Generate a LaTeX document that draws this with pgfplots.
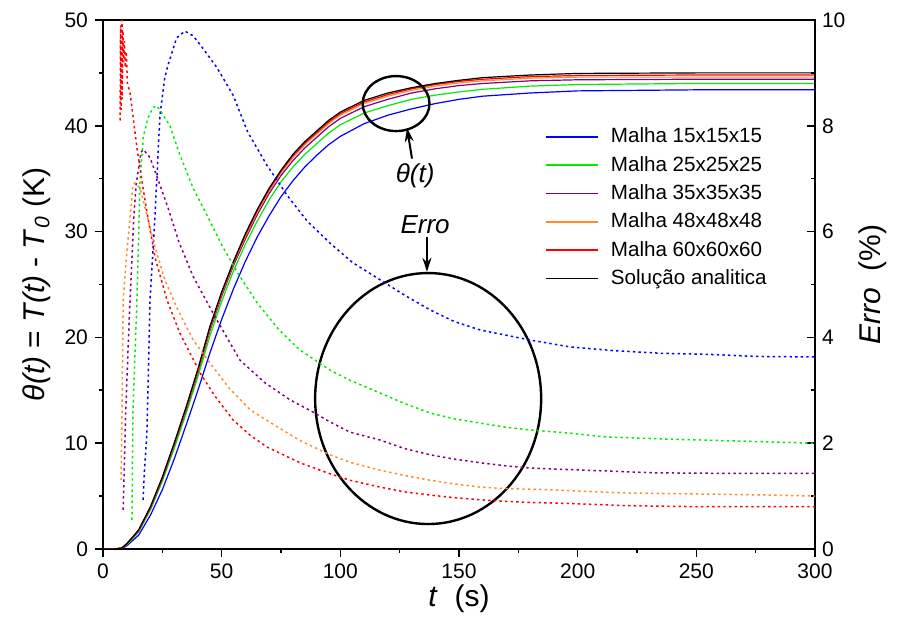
\documentclass[border=0pt]{standalone}
\usepackage{fontspec}
\setmainfont{Liberation Sans}
\usepackage{pgfplots}
\usepackage{pgfplotstable}
\pgfplotsset{compat=1.18}
\usetikzlibrary{calc,arrows.meta}

\definecolor{cblue}{RGB}{0,0,255}
\definecolor{cgreen}{RGB}{0,235,0}
\definecolor{cpurple}{RGB}{128,0,128}
\definecolor{corange}{RGB}{255,140,40}
\definecolor{cred}{RGB}{255,0,0}

\pgfplotstableread{
t B Bl G P O R
0 0 0 0 0 0 0
5 0 0 0 0 0 0
8 0.1 0.05 0.08 0.09 0.1 0.1
10 0.5 0.3 0.4 0.45 0.48 0.5
12 1.0 0.7 0.85 0.95 0.98 1.0
15 1.8 1.3 1.6 1.7 1.75 1.78
20 4.0 3.2 3.7 3.85 3.9 3.95
25 6.8 5.6 6.4 6.6 6.7 6.75
30 10.0 8.5 9.5 9.8 9.9 9.95
35 13.4 11.7 12.8 13.1 13.25 13.35
40 17.0 15.0 16.3 16.7 16.85 16.95
45 21.0 18.5 20.1 20.6 20.8 20.9
50 24.3 21.7 23.4 23.9 24.1 24.2
55 27.2 24.6 26.3 26.8 27.0 27.1
60 29.8 27.2 28.8 29.3 29.55 29.7
65 32.1 29.5 31.0 31.6 31.85 32.0
70 34.1 31.5 33.0 33.6 33.85 34.0
75 35.8 33.3 34.7 35.3 35.55 35.7
80 37.3 34.8 36.1 36.7 37.0 37.15
85 38.5 36.1 37.3 37.9 38.2 38.35
90 39.5 37.2 38.3 38.9 39.2 39.35
95 40.5 38.2 39.3 39.9 40.2 40.35
100 41.3 39.0 40.1 40.7 41.0 41.15
110 42.4 40.2 41.2 41.8 42.1 42.25
120 43.1 41.0 41.9 42.5 42.8 42.95
130 43.6 41.6 42.5 43.1 43.35 43.5
140 44.0 42.1 42.9 43.5 43.75 43.9
150 44.3 42.5 43.2 43.8 44.05 44.2
160 44.55 42.8 43.45 44.0 44.25 44.4
180 44.8 43.1 43.75 44.25 44.5 44.65
200 44.95 43.3 43.9 44.35 44.6 44.75
250 45.0 43.4 44.0 44.4 44.6 44.8
300 45.0 43.4 44.0 44.4 44.6 44.8
}\thetatab

\begin{document}
\begin{tikzpicture}
\pgfplotsset{
  every axis/.append style={
    scale only axis, width=356pt, height=264.5pt,
    xmin=0, xmax=300,
    /pgf/number format/assume math mode=true,
    tick label style={font=\fontsize{10.5}{12}\selectfont},
    label style={font=\fontsize{15}{18}\selectfont},
    major tick length=4pt, minor tick length=2pt,
    tick style={black, line width=0.8pt},
    axis line style={line width=1pt},
  },
  err/.style={line width=0.75pt, dash pattern=on 1.2pt off 1.6pt},
  th/.style={line width=0.6pt},
}
\begin{axis}[
  ymin=0, ymax=50,
  xtick={0,50,...,300}, minor x tick num=1,
  ytick={0,10,...,50}, minor y tick num=1,
  xtick pos=left, ytick pos=left,
  tick align=outside,
  xlabel={\textit{t}\ \ (s)},
  xlabel style={yshift=4pt},
  ylabel={\textit{θ(t)} = \textit{T(t)} - \textit{T}\textsubscript{\textit{0}} (K)},
  legend style={at={(0.612,0.812)}, anchor=north west, draw=none, fill=none,
    font=\fontsize{10.3}{12}\selectfont, row sep=1.2pt},
  legend cell align=left,
  legend image code/.code={\draw[#1, line width=0.9pt] (0pt,0pt) -- (26pt,0pt);},
]
\coordinate (BL) at (rel axis cs:0,0);
\coordinate (TR) at (rel axis cs:1,1);
\addplot[th, cblue] table[x=t, y=Bl] {\thetatab};
\addlegendentry{\hspace{4pt}Malha 15x15x15}
\addplot[th, cgreen] table[x=t, y=G] {\thetatab};
\addlegendentry{\hspace{4pt}Malha 25x25x25}
\addplot[th, cpurple] table[x=t, y=P] {\thetatab};
\addlegendentry{\hspace{4pt}Malha 35x35x35}
\addplot[th, corange] table[x=t, y=O] {\thetatab};
\addlegendentry{\hspace{4pt}Malha 48x48x48}
\addplot[th, cred] table[x=t, y=R] {\thetatab};
\addlegendentry{\hspace{4pt}Malha 60x60x60}
\addplot[th, black] table[x=t, y=B] {\thetatab};
\addlegendentry{\hspace{4pt}Solução analitica}

\draw[line width=1.2pt] (axis cs:123.5,42.1) ellipse [x radius=16.7pt, y radius=13.75pt];
\draw[line width=1.2pt] (axis cs:137,14.22) ellipse [x radius=56.5pt, y radius=62.75pt];
\draw[line width=1pt, -{Stealth[length=7pt,width=4.5pt]}] (axis cs:130.2,36.9) -- (axis cs:128.1,39.8);
\draw[line width=1pt, -{Stealth[length=7pt,width=4.5pt]}] (axis cs:136.5,29.5) -- (axis cs:136.5,26.2);
\node[font=\fontsize{13}{15}\selectfont\itshape] at (axis cs:131.5,35.3) {θ(t)};
\node[font=\fontsize{13}{15}\selectfont\itshape] at (axis cs:135.7,30.7) {Erro};
\end{axis}

\begin{axis}[
  ymin=0, ymax=10,
  axis y line*=right, axis x line=none,
  ytick={0,2,...,10}, minor y tick num=1,
  tick align=inside,
  ylabel={\textit{Erro}\ \ (\%)},
]
\addplot[err, cblue] coordinates {(16.9,0.93) (17.5,1.5) (18.5,2.19) (19.2,3.5) (19.8,4.7) (21,5.6) (21.9,6.3) (24,8.2) (26,8.9) (27.4,9.15) (31,9.66) (34.5,9.79) (38,9.7) (42,9.47) (48,9.1) (54.8,8.58) (61,7.88) (69,7.26) (77.5,6.69) (86,6.2) (95.7,5.78) (105,5.42) (116.7,5.09) (127,4.8) (137.8,4.52) (148,4.3) (158.9,4.14) (170,4.04) (180,3.95) (196.8,3.82) (215,3.75) (235,3.7) (255,3.68) (275,3.64) (300,3.63)};
\addplot[err, cgreen] coordinates {(12.2,0.55) (12.6,2.6) (14.3,4.7) (15.6,6.94) (17,7.8) (19,8.15) (21,8.34) (22.5,8.38) (24,8.3) (28.2,8.0) (32.4,7.45) (38,6.82) (43.8,6.31) (50,5.75) (57,5.2) (65,4.65) (74,4.15) (83,3.76) (95.7,3.38) (104,3.19) (116.7,2.95) (127,2.75) (137.8,2.57) (148,2.46) (158.9,2.38) (170,2.3) (180,2.25) (196.8,2.19) (211,2.12) (236,2.08) (260,2.05) (284,2.02) (300,2.0)};
\addplot[err, cpurple] coordinates {(8.5,0.74) (9.5,2.5) (11,4.3) (13,6.3) (14,6.9) (16,7.5) (17,7.55) (19.8,7.4) (24,6.88) (27.4,6.45) (32,5.8) (38,5.15) (47.2,4.39) (57.7,3.57) (68,3.15) (78.8,2.82) (88,2.6) (95.7,2.40) (104,2.21) (116.7,2.06) (127,1.9) (137.8,1.78) (148,1.7) (158.9,1.63) (170,1.57) (180,1.53) (196.8,1.5) (215,1.47) (232,1.44) (260,1.43) (300,1.43)};
\addplot[err, corange] coordinates {(7.6,1.3) (8,2.5) (8.5,4.7) (10,5.6) (11.5,6.3) (12.6,6.88) (13.5,6.92) (15.6,6.82) (18.5,6.31) (22,5.7) (26,5.1) (31,4.57) (38,3.95) (45,3.52) (53,3.05) (62,2.63) (72,2.35) (83,2.05) (95.7,1.78) (104,1.64) (116.7,1.49) (127,1.39) (137.8,1.30) (148,1.23) (158.9,1.17) (170,1.14) (180,1.13) (188,1.12) (219,1.06) (250,1.04) (280,1.02) (300,1.0)};
\addplot[err, cred] coordinates {(7.2,8.1) (7.4,9.9) (7.6,8.3) (7.8,9.5) (8.0,10.0) (8.1,8.5) (8.4,9.8) (8.7,9.2) (9.0,9.6) (9.4,9.1) (9.8,9.4) (10.3,8.8) (11.4,8.62) (12.6,8.2) (14.3,7.58) (15.6,7.2) (16.9,6.82) (18.5,6.37) (22,5.5) (27,4.7) (32.4,4.08) (40.9,3.33) (47,2.9) (54.8,2.44) (62,2.15) (69,1.93) (83,1.63) (95.7,1.42) (104,1.3) (116.7,1.17) (127,1.08) (137.8,1.02) (148,0.97) (158.9,0.93) (170,0.9) (180,0.88) (196.8,0.86) (220,0.82) (250,0.8) (300,0.8)};
\end{axis}
\pgfresetboundingbox
\path ($(BL)+(-51.5pt,-45.5pt)$) rectangle ($(TR)+(45pt,10pt)$);
\end{tikzpicture}
\end{document}
